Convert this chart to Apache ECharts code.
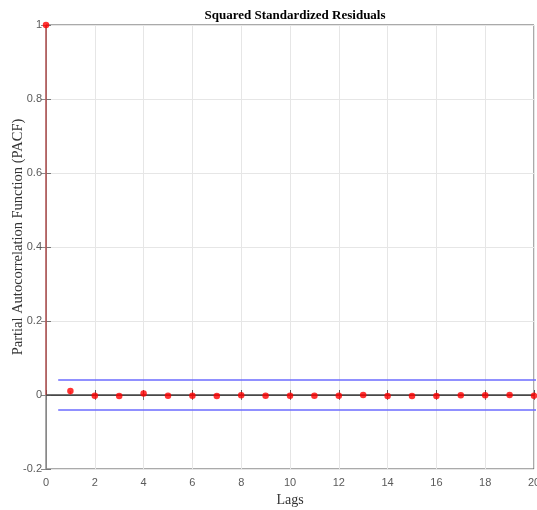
<!DOCTYPE html>
<html>
<head>
<meta charset="utf-8">
<script src="https://cdn.jsdelivr.net/npm/echarts@6/dist/echarts.min.js"></script>
<style>html,body{margin:0;padding:0;background:#fff;}#c{width:537px;height:510px;}</style>
</head>
<body>
<div id="c"></div>
<script>
var titleText = 'Squared Standardized Residuals';
var xLabel = 'Lags';
var yLabel = 'Partial Autocorrelation Function (PACF)';
var lags = [0,1,2,3,4,5,6,7,8,9,10,11,12,13,14,15,16,17,18,19,20];
var pacf = [1.0,0.011,-0.002,-0.003,0.004,-0.002,-0.002,-0.003,-0.001,-0.002,-0.002,-0.002,-0.002,0.000,-0.003,-0.003,-0.003,-0.001,-0.001,0.000,-0.002];
var bound = 0.0405;
var boundRange = [0.5, 20.5];
var xTicks = [0,2,4,6,8,10,12,14,16,18,20];
var yTicks = [-0.2,0,0.2,0.4,0.6,0.8,1];

var pts = lags.map(function(l,i){return [l,pacf[i]];});
var chart = echarts.init(document.getElementById('c'));
var tickFont = {color:'#5a5a5a', fontSize:11, fontFamily:'Liberation Sans, Arial, sans-serif'};
chart.setOption({
  animation:false,
  backgroundColor:'#fff',
  title:{text:titleText,left:290,textAlign:'center',top:4,
    textStyle:{fontFamily:'Liberation Serif, Times New Roman, serif',fontWeight:'bold',fontSize:13,color:'#000'}},
  graphic:[{type:'text',x:18,y:237,rotation:Math.PI/2,
    style:{text:yLabel,x:0,y:0,textAlign:'center',textVerticalAlign:'middle',
      font:'14.5px "Liberation Serif", "Times New Roman", serif',fill:'#333'}}],
  grid:{left:46,right:3,top:25,bottom:41,show:true,borderColor:'#555',borderWidth:1,containLabel:false,outerBoundsMode:'none'},
  xAxis:[{type:'value',min:0,max:20,interval:2,
    name:xLabel,nameLocation:'middle',nameGap:23,
    nameTextStyle:{fontFamily:'Liberation Serif, Times New Roman, serif',fontSize:14,color:'#333'},
    axisLine:{lineStyle:{color:'#555'}},
    axisTick:{inside:true,length:5,lineStyle:{color:'#555'}},
    axisLabel:Object.assign({margin:8,formatter:function(v){return xTicks.indexOf(v)>=0?String(v):'';}},tickFont),
    splitLine:{show:true,lineStyle:{color:'#e6e6e6'}}},
   {type:'value',position:'top',min:0,max:20,interval:2,
    axisLine:{show:true,lineStyle:{color:'#555'}},
    axisTick:{inside:true,length:5,lineStyle:{color:'#777'}},
    axisLabel:{show:false},splitLine:{show:false}}],
  yAxis:[{type:'value',min:-0.2,max:1,interval:0.2,
    axisLine:{show:true,lineStyle:{color:'#c8c8c8'}},
    axisTick:{show:true,inside:true,length:5,lineStyle:{color:'#777'}},
    axisLabel:Object.assign({margin:4,formatter:function(v){var r=Math.round(v*10)/10;return String(r);}},tickFont),
    splitLine:{show:true,lineStyle:{color:'#e6e6e6'}}},
   {type:'value',position:'right',min:-0.2,max:1,interval:0.2,
    axisLine:{show:true,lineStyle:{color:'#888'}},
    axisTick:{show:true,inside:true,length:5,lineStyle:{color:'#888'}},
    axisLabel:{show:false},splitLine:{show:false}}],
  series:[
    {type:'line',data:[[0,0],[20,0]],symbol:'none',lineStyle:{color:'#444',width:1.5},z:3},
    {type:'line',data:[[boundRange[0],bound],[boundRange[1],bound]],symbol:'none',clip:true,lineStyle:{color:'#6b6bff',width:1.5},z:3},
    {type:'line',data:[[boundRange[0],-bound],[boundRange[1],-bound]],symbol:'none',clip:true,lineStyle:{color:'#6b6bff',width:1.5},z:3},
    {type:'custom',z:4,data:pts,renderItem:function(params,api){
      var x=api.value(0),y=api.value(1);
      var p0=api.coord([x,0]),p1=api.coord([x,y]);
      return {type:'line',shape:{x1:p0[0],y1:p0[1],x2:p1[0],y2:p1[1]},style:{stroke:'rgba(225,50,50,0.55)',lineWidth:1.5}};
    }},
    {type:'scatter',data:pts,symbol:'circle',symbolSize:6.5,itemStyle:{color:'#f00'},z:5}
  ]
});
</script>
</body>
</html>
